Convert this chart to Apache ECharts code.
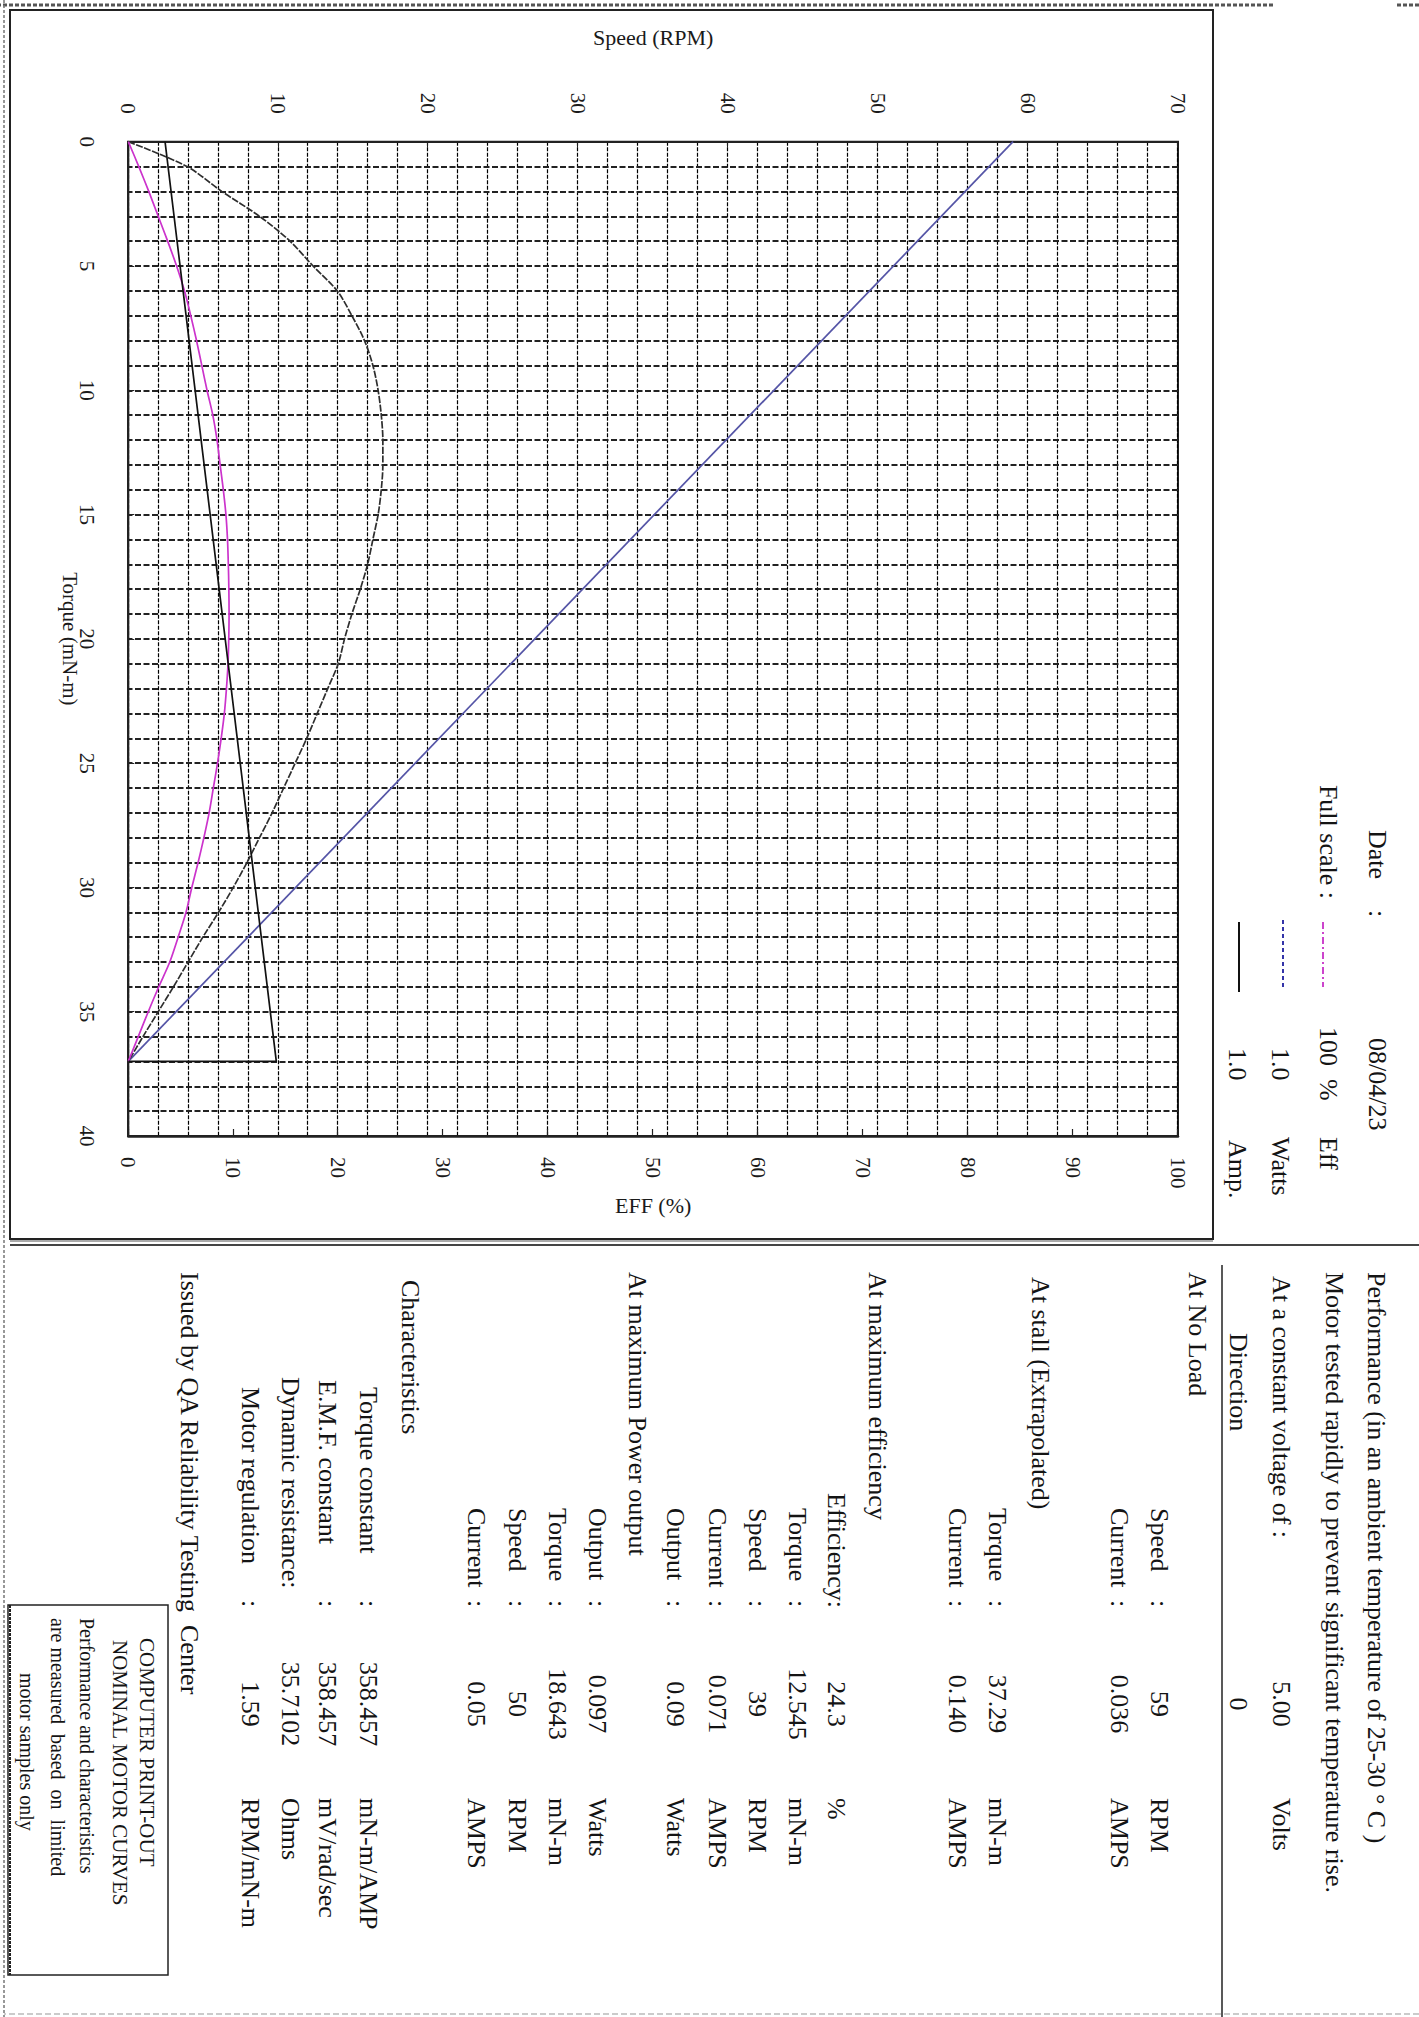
<!DOCTYPE html>
<html>
<head>
<meta charset="utf-8">
<title>Nominal motor curves</title>
<script src="https://cdn.jsdelivr.net/npm/echarts/dist/echarts.min.js"></script>
<style>
  html, body { margin:0; padding:0; background:#fff; }
  body { width:1419px; height:2017px; overflow:hidden; position:relative; }
  #page { position:absolute; left:0; top:0; width:2017px; height:1419px;
          transform-origin:0 0; transform:translate(1419px,0) rotate(90deg);
          font-family:'Liberation Serif','Times New Roman',serif; color:#141414; }
  #chart { position:absolute; left:0; top:0; width:2017px; height:1419px; }
  #deco { position:absolute; left:0; top:0; pointer-events:none; }
  #text { position:absolute; left:0; top:0; width:2017px; height:1419px; }
  .t { position:absolute; white-space:pre; font-size:26px; line-height:30px; height:30px; }
  .bx { font-size:20px; line-height:24px; height:24px; }
  .bx2 { font-size:21px; line-height:24px; height:24px; }
</style>
</head>
<body>
<div id="page">
  <div id="chart"></div>
  <svg id="deco" width="2017" height="1419" xmlns="http://www.w3.org/2000/svg"></svg>
  <div id="text"></div>
</div>
<script>
// ---------------- data ----------------
const torqueAxisTicks = [0, 5, 10, 15, 20, 25, 30, 35, 40];          // mN-m
const speedAxisTicks  = [0, 10, 20, 30, 40, 50, 60, 70];             // RPM
const effAxisTicks    = [0, 10, 20, 30, 40, 50, 60, 70, 80, 90, 100]; // % of full scale

const torqueSamples = [0,1,2,3,4,5,6,7,8,9,10,11,12,13,14,15,16,17,18,19,20,21,22,23,24,25,26,27,28,29,30,31,32,33,34,35,36,37];
const efficiencyPct = [0,5.6,8.9,12.5,15.4,17.6,19.9,21.3,22.5,23.3,23.8,24.1,24.25,24.25,24.1,23.8,23.3,22.8,22.1,21.3,20.6,20.0,19.0,18.0,17.0,15.9,14.8,13.7,12.5,11.3,10.0,8.6,7.1,5.7,4.3,2.85,1.4,0];
const outputPower   = [0,1.0,1.95,2.85,3.75,4.6,5.35,5.95,6.5,7.0,7.5,8.05,8.45,8.75,9.05,9.3,9.45,9.53,9.58,9.6,9.57,9.5,9.35,9.15,8.85,8.5,8.1,7.7,7.2,6.65,6.05,5.5,4.75,3.95,2.9,1.9,0.95,0];

const speedTorque  = [0, 37];
const speedRpm     = [59, 0];
const currentTorque = [0, 37, 37];
const currentScaled = [3.5, 14.1, 0];

// ---------------- texts ----------------
const headerLines = ['Performance (in an ambient temperature of 25-30 ° C )',
                     'Motor tested rapidly to prevent significant temperature rise.'];
const voltageRow = ['At a constant voltage of :', '5.00', 'Volts'];
const directionRow = ['Direction', '0'];
const sectionTitles = ['At No Load', 'At stall (Extrapolated)', 'At maximum efficiency', 'At maximum Power output', 'Characteristics'];
const sectionRows = [
  [['Speed','59','RPM'], ['Current','0.036','AMPS']],
  [['Torque','37.29','mN-m'], ['Current','0.140','AMPS']],
  [['Efficiency:','24.3','%'], ['Torque','12.545','mN-m'], ['Speed','39','RPM'], ['Current','0.071','AMPS'], ['Output','0.09','Watts']],
  [['Output','0.097','Watts'], ['Torque','18.643','mN-m'], ['Speed','50','RPM'], ['Current','0.05','AMPS']],
  [['Torque constant','358.457','mN-m/AMP'], ['E.M.F. constant','358.457','mV/rad/sec'], ['Dynamic resistance:','35.7102','Ohms'], ['Motor regulation','1.59','RPM/mN-m']]
];
const issuedBy = 'Issued by QA Reliability Testing  Center';
const noteLines = ['COMPUTER PRINT-OUT', 'NOMINAL MOTOR CURVES', 'Performance and characteristics', 'are measured  based  on  limited', 'motor samples only'];
const legendDate = ['Date', ':', '08/04/23'];
const legendScale = [['100  %', 'Eff'], ['1.0', 'Watts'], ['1.0', 'Amp.']];

// ---------------- layout (landscape page, rotated 90deg) ----------------
const sectionTitleV = [222, 379, 542, 782, 1009];
const sectionTitleU = [1272, 1277, 1272, 1272, 1280];
const sectionRowV = [[260,300],[422,462],[583,622,662,702,744],[822,862,902,943],[1051,1092,1129,1169]];
const sectionLabelU = [[1508,1508],[1508,1508],[1493,1508,1508,1508,1508],[1508,1508,1508,1508],[1387,1380,1377,1387]];
const noteV = [1272, 1299, 1332, 1361, 1392];
const noteU = [1638, 1640, 1618, 1618, 1673];

const textLayer = document.getElementById('text');
function put(txt, u, v, align, cls) {
  const d = document.createElement('div');
  d.className = 't' + (cls ? ' ' + cls : '');
  d.textContent = txt;
  const lh = cls ? 24 : 30;
  d.style.top = (v - lh / 2) + 'px';
  if (align === 'right') { d.style.left = (u - 600) + 'px'; d.style.width = '600px'; d.style.textAlign = 'right'; }
  else if (align === 'center') { d.style.left = (u - 300) + 'px'; d.style.width = '600px'; d.style.textAlign = 'center'; }
  else d.style.left = u + 'px';
  textLayer.appendChild(d);
}
const VALUE_U = 1704, UNIT_U = 1798, COLON_U = 1600;

put(headerLines[0], 1272, 43);
put(headerLines[1], 1272, 85);
put(voltageRow[0], 1276, 138); put(voltageRow[1], VALUE_U, 138, 'center'); put(voltageRow[2], UNIT_U, 138);
put(directionRow[0], 1333, 181); put(directionRow[1], VALUE_U, 181, 'center');
sectionTitles.forEach((title, i) => {
  put(title, sectionTitleU[i], sectionTitleV[i]);
  sectionRows[i].forEach((row, j) => {
    const v = sectionRowV[i][j];
    put(row[0], sectionLabelU[i][j], v);
    if (!row[0].endsWith(':')) put(':', COLON_U, v);
    put(row[1], VALUE_U, v, 'center');
    put(row[2], UNIT_U, v);
  });
});
put(issuedBy, 1272, 1230);
noteLines.forEach((line, i) => put(line, noteU[i], noteV[i], null, i < 2 ? 'bx2' : 'bx'));

// legend block
put(legendDate[0], 830, 42); put(legendDate[1], 910, 42); put(legendDate[2], 1038, 42);
put('Full scale :', 899, 91, 'right');
put(legendScale[0][0], 1027, 91); put(legendScale[0][1], 1137, 91);
put(legendScale[1][0], 1048, 139); put(legendScale[1][1], 1137, 139);
put(legendScale[2][0], 1048, 182); put(legendScale[2][1], 1140, 182);

// decorations: frames, separators, legend samples
const deco = document.getElementById('deco');
function ln(x1, y1, x2, y2, stroke, w, dash) {
  const e = document.createElementNS('http://www.w3.org/2000/svg', 'line');
  e.setAttribute('x1', x1); e.setAttribute('y1', y1); e.setAttribute('x2', x2); e.setAttribute('y2', y2);
  e.setAttribute('stroke', stroke); e.setAttribute('stroke-width', w);
  if (dash) e.setAttribute('stroke-dasharray', dash);
  deco.appendChild(e);
}
function rect(x, y, w, h, stroke, sw) {
  const e = document.createElementNS('http://www.w3.org/2000/svg', 'rect');
  e.setAttribute('x', x); e.setAttribute('y', y); e.setAttribute('width', w); e.setAttribute('height', h);
  e.setAttribute('fill', 'none'); e.setAttribute('stroke', stroke); e.setAttribute('stroke-width', sw);
  deco.appendChild(e);
}
// page dashed borders
ln(5, 146, 5, 1419, '#555', 3, '4 2');
ln(5, 0, 5, 24, '#555', 3, '4 2');
ln(0, 1415, 2017, 1415, '#777', 1.5, '3 2');
ln(2014, 0, 2014, 1415, '#bbb', 1.5, '6 3');
// chart frame
rect(10, 206, 1229, 1203, '#222', 2);
ln(1241, 206, 1241, 1409, '#aaa', 2);
// separator between chart and data panel
ln(1245, 0, 1245, 1409, '#444', 2);
// vertical line of data panel
ln(1265, 197, 2017, 197, '#222', 1.5);
// note box
rect(1605, 1251, 370, 160, '#222', 1.5);
ln(1605, 1409, 1975, 1409, '#222', 2, '3 1');
// legend samples
ln(922, 96, 987, 96, '#cc44cc', 2, '7 3 2 3');
ln(920, 136, 990, 136, '#3434a8', 2, '4 3');
ln(922, 180, 992, 180, '#111', 2);

// ---------------- chart ----------------
const chart = echarts.init(document.getElementById('chart'), null, { renderer: 'svg', width: 2017, height: 1419 });
const FONT = 'Liberation Serif';
const hGrid = { color: '#222', width: 1.8, type: [6, 2.5] };   // torque grid lines
const vGrid = { color: '#000', width: 1.2, type: [4, 1.5] };   // speed grid lines
const zip = (a, b) => a.map((x, i) => [x, b[i]]);

chart.setOption({
  animation: false,
  backgroundColor: 'transparent',
  textStyle: { fontFamily: FONT },
  grid: { left: 141.7, top: 241, width: 994.3, height: 1049.7, show: true,
          borderColor: '#222', borderWidth: 2, containLabel: false, outerBoundsMode: 'none' },
  xAxis: {
    type: 'value',
    min: torqueAxisTicks[0], max: torqueAxisTicks[torqueAxisTicks.length - 1],
    interval: torqueAxisTicks[1] - torqueAxisTicks[0],
    position: 'bottom',
    name: 'Torque (mN-m)', nameLocation: 'middle', nameGap: 48, nameMoveOverlap: false,
    nameTextStyle: { fontSize: 21, color: '#1a1a1a', fontFamily: FONT },
    axisLine: { show: true, lineStyle: { color: '#222', width: 2 } },
    axisTick: { show: true, inside: true, length: 6, lineStyle: { color: '#222' } },
    axisLabel: { margin: 31, fontSize: 21, color: '#1a1a1a', fontFamily: FONT },
    splitLine: { show: true, lineStyle: hGrid },
    minorTick: { show: false, splitNumber: 5 },
    minorSplitLine: { show: true, lineStyle: hGrid }
  },
  yAxis: [{
    type: 'value',
    min: speedAxisTicks[0], max: speedAxisTicks[speedAxisTicks.length - 1],
    interval: speedAxisTicks[1] - speedAxisTicks[0],
    position: 'left',
    name: 'Speed (RPM)', nameLocation: 'middle', nameGap: 93, nameMoveOverlap: false,
    nameTextStyle: { fontSize: 22, color: '#1a1a1a', fontFamily: FONT },
    axisLine: { show: true, lineStyle: { color: '#222', width: 2 } },
    axisTick: { show: true, inside: true, length: 6, lineStyle: { color: '#222' } },
    axisLabel: { margin: 28, fontSize: 21, color: '#1a1a1a', fontFamily: FONT },
    splitLine: { show: true, lineStyle: vGrid },
    minorTick: { show: false, splitNumber: 5 },
    minorSplitLine: { show: true, lineStyle: vGrid }
  }, {
    type: 'value',
    min: effAxisTicks[0], max: effAxisTicks[effAxisTicks.length - 1],
    interval: effAxisTicks[1] - effAxisTicks[0],
    position: 'right',
    name: 'EFF (%)', nameLocation: 'middle', nameGap: 58, nameMoveOverlap: false,
    nameTextStyle: { fontSize: 22, color: '#1a1a1a', fontFamily: FONT },
    axisLine: { show: true, lineStyle: { color: '#222', width: 2.5 } },
    axisTick: { show: true, inside: true, length: 7, lineStyle: { color: '#222', width: 1.2 } },
    axisLabel: { margin: 21, fontSize: 21, color: '#1a1a1a', fontFamily: FONT },
    splitLine: { show: false }
  }],
  series: [
    { name: 'Speed', type: 'line', yAxisIndex: 0, data: zip(speedTorque, speedRpm),
      symbol: 'none', lineStyle: { color: '#5454a6', width: 1.7 }, z: 5 },
    { name: 'Efficiency', type: 'line', yAxisIndex: 1, data: zip(torqueSamples, efficiencyPct),
      symbol: 'none', smooth: 0.3, lineStyle: { color: '#2e2e2e', width: 1.7, type: [7, 1.5] }, z: 5 },
    { name: 'Output', type: 'line', yAxisIndex: 1, data: zip(torqueSamples, outputPower),
      symbol: 'none', smooth: 0.3, lineStyle: { color: '#cc33cc', width: 1.7 }, z: 6 },
    { name: 'Current', type: 'line', yAxisIndex: 1, data: zip(currentTorque, currentScaled),
      symbol: 'none', lineStyle: { color: '#111', width: 1.7 }, z: 6 }
  ]
});
</script>
</body>
</html>
